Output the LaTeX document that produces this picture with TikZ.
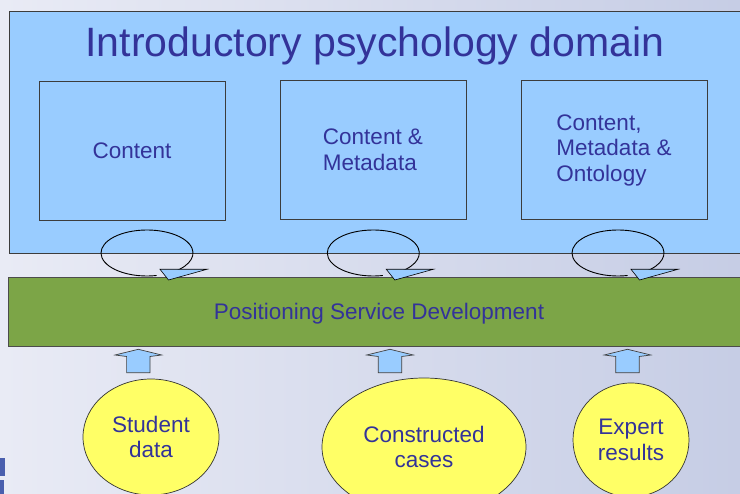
\documentclass[tikz,border=0pt]{standalone}
\usepackage{fontspec}
\setmainfont{Liberation Sans}
\usetikzlibrary{shapes.geometric,calc}
\definecolor{bgL}{HTML}{E9EBF5}
\definecolor{bgR}{HTML}{C6CDE5}
\definecolor{domblue}{HTML}{99CCFF}
\definecolor{framegray}{HTML}{3C3C3C}
\definecolor{barGreen}{HTML}{7CA547}
\definecolor{txtblue}{HTML}{333399}
\definecolor{ellYellow}{HTML}{FFFF66}
\definecolor{logoblue}{HTML}{4A5FAE}
\tikzset{
  frame/.style={draw=framegray, line width=0.9pt},
  inbox/.style={frame, fill=domblue},
  lbl/.style={text=txtblue, font=\fontsize{22.5}{25.5}\selectfont, align=left, inner sep=0pt},
  srcell/.style={ellipse, draw=black!80, line width=0.7pt, fill=ellYellow, inner sep=0pt,
     text=txtblue, font=\fontsize{22.5}{25.5}\selectfont, align=center},
  loopline/.style={draw=black, line width=0.9pt},
  loophead/.style={draw=black, line width=0.6pt, fill=domblue},
  uparrow/.style={draw=black!75, line width=0.7pt, fill=domblue}
}
\begin{document}
\begin{tikzpicture}[x=1pt,y=-1pt]
\useasboundingbox (0,0) rectangle (740,494);
\clip (0,0) rectangle (740,494);
% background
\shade[left color=bgL, right color=bgR] (0,0) rectangle (740,494);
% logo fragment
\fill[logoblue] (0,458) rectangle (5,476);
\fill[logoblue] (0,480) rectangle (4,494);
% domain box
\draw[frame, fill=domblue] (9,11) rectangle (745,253);
\node[text=txtblue, font=\fontsize{41}{45}\selectfont, anchor=base, inner sep=0pt] (title) at (375,57) {Introductory psychology domain};
% inner boxes
\draw[inbox] (39,81) rectangle (225,220);
\draw[inbox] (280,80) rectangle (466,219);
\draw[inbox] (521,80) rectangle (707,219);
\node[lbl, anchor=base] (c1) at (132,159) {Content};
\node[lbl] (c2) at (373,150) {Content \&\\Metadata};
\node[lbl] (c3) at (614,150) {Content,\\Metadata \&\\Ontology};
% green bar
\draw[draw=black!70, line width=0.9pt, fill=barGreen] (8,277) rectangle (745,346);
\node[lbl, anchor=base] (psd) at (379,319.5) {Positioning Service Development};
% loops
\foreach \cx/\nm in {147/l1, 373.3/l2, 618/l3}{
  \coordinate (\nm) at (\cx,253);
  \draw[loopline] ([shift={(78:46 and 23)}]\nm) arc[start angle=78, end angle=423, x radius=46, y radius=23];
  \draw[loophead] ($(\nm)+(13,16.3)$) -- ($(\nm)+(60,16.3)$) -- ($(\nm)+(21.5,27)$) -- cycle;
}
% up arrows
\foreach \ax/\nm in {138.3/a1, 390/a2, 627.5/a3}{
  \coordinate (\nm) at (\ax,349.3);
  \draw[uparrow] (\nm) -- ++(-23.3,5.7) -- ++(11.6,1.5) -- ++(0,16.2) -- ++(23.4,0) -- ++(0,-16.2) -- ++(11.6,-1.5) -- cycle;
}
% source ellipses
\node[srcell, minimum width=136pt, minimum height=116pt] (sd) at (151,437) {Student\\data};
\node[srcell, minimum width=204pt, minimum height=138pt] (cc) at (424,447) {Constructed\\cases};
\node[srcell, minimum width=116pt, minimum height=114pt] (er) at (631,440) {Expert\\results};
\end{tikzpicture}
\end{document}
